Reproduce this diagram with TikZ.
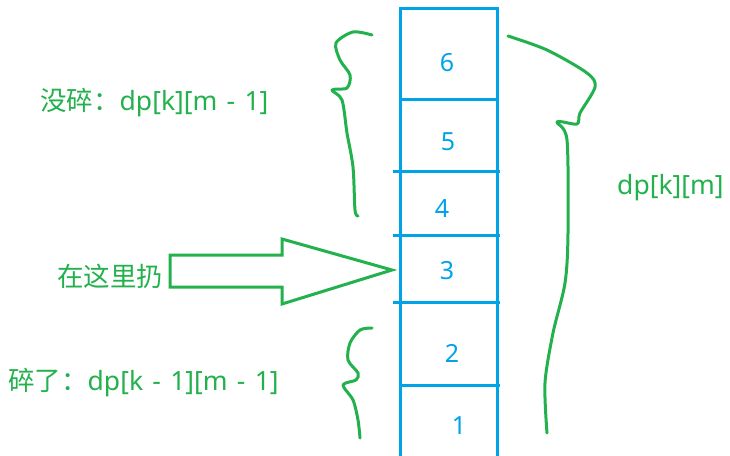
\documentclass[tikz,border=0pt]{standalone}
\usepackage{fontspec}
\setmainfont[WordSpace=1.35]{Noto Sans}
\newfontfamily\cjk{Noto Sans CJK SC}
\definecolor{pgreen}{RGB}{34,177,76}
\definecolor{pblue}{RGB}{0,162,232}
\begin{document}
\begin{tikzpicture}[x=1pt,y=-1pt,
  cellline/.style={draw=pblue,line width=3pt},
  num/.style={text=pblue,font=\fontsize{25}{28}\selectfont,inner sep=0pt},
  lbl/.style={text=pgreen,font=\fontsize{26.5}{30}\selectfont,inner sep=0pt},
  scribble/.style={draw=pgreen,line width=3pt,line cap=round,line join=round}]
\useasboundingbox (0,0) rectangle (730,455);
% column
\draw[cellline] (400,470) -- (400,8) -- (497,8) -- (497,470);
\draw[cellline] (400,99) -- (497,99);
\draw[cellline] (393,171) -- (500,171);
\draw[cellline] (393,235) -- (500,235);
\draw[cellline] (393,302) -- (500,302);
\draw[cellline] (400,385) -- (500,385);
\node[num] (n6) at (447,63) {6};
\node[num] (n5) at (448,142) {5};
\node[num] (n4) at (442,209) {4};
\node[num] (n3) at (447,271) {3};
\node[num] (n2) at (452,353) {2};
\node[num] (n1) at (459,426) {1};
% labels
\node[lbl,anchor=west] (l1) at (40,103) {{\cjk 没碎：}dp[k][m - 1]};
\node[lbl,anchor=west] (l2) at (57,276) {\cjk 在这里扔};
\node[lbl,anchor=west] (l3) at (8,383) {{\cjk 碎了：}dp[k - 1][m - 1]};
\node[lbl,anchor=west] (l4) at (617,188) {dp[k][m]};
% big arrow
\draw[scribble,line cap=butt,line join=miter] (170,255) -- (282,255) -- (282,239) -- (392,270) -- (282,304) -- (282,287) -- (170,287) -- cycle;
% braces
\draw[scribble] plot[smooth,tension=0.5] coordinates {(372,35) (353,32) (336,43) (340,60) (350,75) (347,88) (332,90) (342,100) (347,133) (353,167) (355,210) (358,216)};
\draw[scribble] plot[smooth,tension=0.5] coordinates {(372,328) (360,330) (350,343) (348,360) (358,373) (356,380) (343,385) (353,400) (358,420) (360,438)};
\draw[scribble] plot[smooth,tension=0.5] coordinates {(508,36) (547,50) (587,73) (595,87) (580,113) (577,124) (557,122) (567,140) (568,233) (565,283) (553,333) (545,383) (547,433)};
\end{tikzpicture}
\end{document}
